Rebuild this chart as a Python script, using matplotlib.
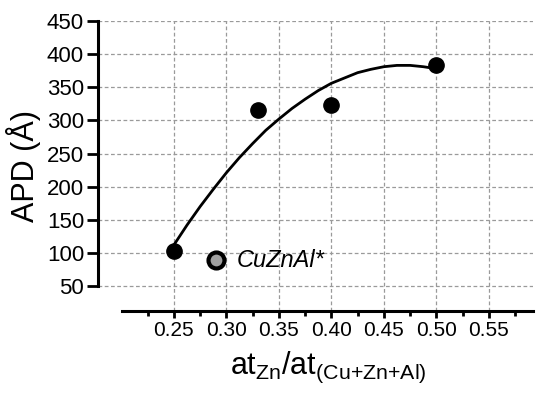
import numpy as np
import matplotlib.pyplot as plt

plt.rcParams['font.family'] = ['Liberation Sans', 'DejaVu Sans']
plt.rcParams['mathtext.fontset'] = 'custom'
plt.rcParams['mathtext.rm'] = 'Liberation Sans'

# measured samples
x_pts = [0.25, 0.33, 0.40, 0.50]
apd_pts = [103, 315, 323, 383]

# reference sample CuZnAl*
x_ref = [0.29]
apd_ref = [89]

# fitted trend line
x_fit = [0.25, 0.2625, 0.275, 0.2875, 0.30, 0.3125, 0.325, 0.3375, 0.35, 0.3625,
         0.375, 0.3875, 0.40, 0.4125, 0.425, 0.4375, 0.45, 0.4625, 0.475, 0.4875, 0.50]
apd_fit = [112, 142, 170, 196, 221, 244, 265, 285, 302, 318,
           332, 345, 356, 364, 372, 377, 381, 383, 383, 381, 378]

fig = plt.figure(figsize=(5.5, 3.96), dpi=100)
ax = fig.add_axes([0.178, 0.2146, 0.791, 0.7324])

ax.plot(x_fit, apd_fit, color='black', lw=2, zorder=3)
ax.plot(x_pts, apd_pts, 'o', color='black', ms=11, zorder=4, clip_on=False)
ax.plot(x_ref, apd_ref, 'o', mfc='#a0a0a0', mec='black', mew=3, ms=11.5, zorder=4)
ax.text(0.31, apd_ref[0], 'CuZnAl*', fontsize=17, style='italic', va='center')

ax.set_xlim(0.1776, 0.592)
ax.set_ylim(12.3, 450)
ax.set_xticks([0.25, 0.30, 0.35, 0.40, 0.45, 0.50, 0.55])
ax.set_xticks([0.225, 0.275, 0.325, 0.375, 0.425, 0.475, 0.525, 0.575], minor=True)
ax.set_yticks(np.arange(50, 451, 50))
ax.xaxis.set_major_formatter(plt.FormatStrFormatter('%.2f'))

ax.spines['top'].set_visible(False)
ax.spines['right'].set_visible(False)
ax.spines['left'].set_bounds(50, 450)
ax.spines['bottom'].set_bounds(0.2005, 0.592)
for s in ('left', 'bottom'):
    ax.spines[s].set_linewidth(2.2)

ax.tick_params(axis='both', which='major', width=2, pad=2)
ax.tick_params(axis='y', which='major', length=8, labelsize=16)
ax.tick_params(axis='x', which='major', length=5, labelsize=15)
ax.tick_params(axis='x', which='minor', length=3.5, width=2)

ax.grid(True, which='major', color='#9a9a9a', ls=(0, (3, 2)), lw=0.9)
ax.set_axisbelow(True)

ax.set_ylabel('APD (Å)', fontsize=22, labelpad=4)
ax.set_xlabel(r'at$_{\mathregular{Zn}}$/at$_{\mathregular{(Cu{+}Zn{+}Al)}}$', fontsize=22)
ax.xaxis.set_label_coords(0.53, -0.135)

fig.savefig('out.png', dpi=100)
